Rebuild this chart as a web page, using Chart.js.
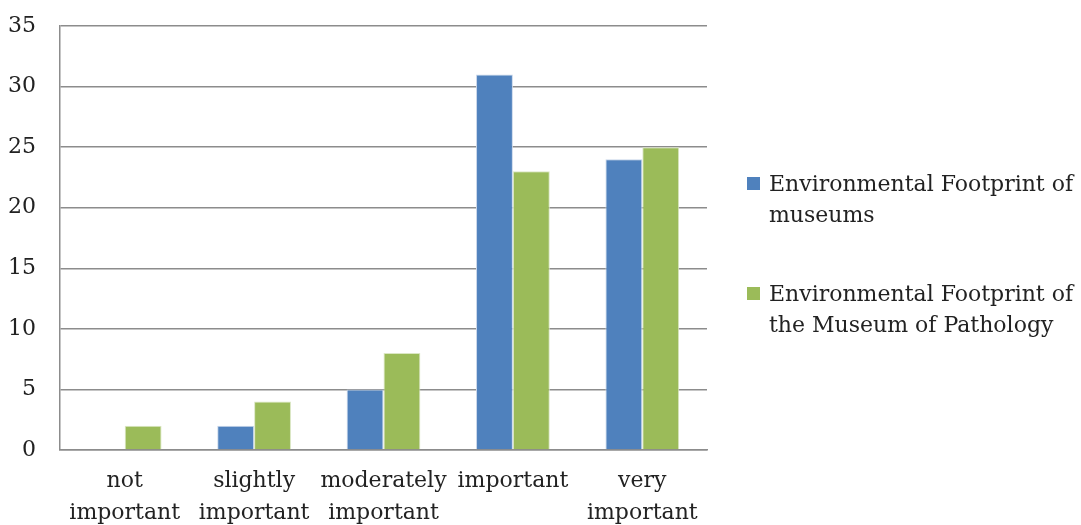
<!DOCTYPE html>
<html>
<head>
<meta charset="utf-8">
<script src="https://cdn.jsdelivr.net/npm/chart.js@4/dist/chart.umd.min.js"></script>
<style>
  html, body { margin: 0; padding: 0; background: #fff; }
  #wrap { position: relative; width: 1081px; height: 525px; }
  #legend { position: absolute; left: 747px; top: 168px; font-family: "DejaVu Serif", serif; font-size: 22px; color: #222; }
  .item { position: relative; padding-left: 22px; line-height: 31px; margin-bottom: 48px; }
  .box { position: absolute; left: 0; top: 9px; width: 13px; height: 13px; }
</style>
</head>
<body>
<div id="wrap">
  <canvas id="chart" width="1081" height="525"></canvas>
  <div id="legend"></div>
</div>
<script>
// categories and series
var categories = [['not', 'important'], ['slightly', 'important'], ['moderately', 'important'], 'important', ['very', 'important']];
var seriesNames = ['Environmental Footprint of museums', 'Environmental Footprint of the Museum of Pathology'];
var legendLines = [['Environmental Footprint of', 'museums'], ['Environmental Footprint of', 'the Museum of Pathology']];
var museums = [0, 2, 5, 31, 24];
var pathology = [2, 4, 8, 23, 25];
var colors = ['#4F81BD', '#9BBB59'];

Chart.defaults.font.family = '"DejaVu Serif", serif';
Chart.defaults.font.size = 22;
Chart.defaults.color = '#222';

var chart = new Chart(document.getElementById('chart').getContext('2d'), {
  type: 'bar',
  data: {
    labels: categories,
    datasets: [{
      label: seriesNames[0],
      data: museums,
      backgroundColor: colors[0],
      borderColor: '#c9d7ea',
      borderWidth: { top: 1, left: 1, right: 1, bottom: 0 },
      categoryPercentage: 0.57,
      barPercentage: 1.0
    }, {
      label: seriesNames[1],
      data: pathology,
      backgroundColor: colors[1],
      borderColor: '#dbe7c4',
      borderWidth: { top: 1, left: 1, right: 1, bottom: 0 },
      categoryPercentage: 0.57,
      barPercentage: 1.0
    }]
  },
  options: {
    responsive: false,
    animation: false,
    layout: { padding: { top: 26, right: 374, left: 0, bottom: 0 } },
    plugins: {
      legend: { display: false },
      tooltip: { enabled: false }
    },
    scales: {
      x: {
        grid: { display: false, drawTicks: false },
        border: { color: '#8c8c8c', width: 1.5 },
        ticks: { padding: 15, maxRotation: 0, autoSkip: false, font: { lineHeight: 1.45 } },
        afterFit: function(scale) { scale.height = 75; scale.paddingTop = 0; scale.paddingBottom = 0; }
      },
      y: {
        min: 0,
        max: 35,
        ticks: { stepSize: 5, padding: 24 },
        grid: { color: '#8c8c8c', lineWidth: 1.5, drawTicks: false },
        border: { color: '#8c8c8c', width: 1.5 },
        afterFit: function(scale) { scale.width = 60; scale.paddingTop = 0; scale.paddingBottom = 0; }
      }
    }
  }
});

// html legend with wrapped text
var legend = document.getElementById('legend');
legendLines.forEach(function(lines, i) {
  var item = document.createElement('div');
  item.className = 'item';
  var box = document.createElement('span');
  box.className = 'box';
  box.style.background = colors[i];
  item.appendChild(box);
  lines.forEach(function(t, j) {
    if (j > 0) item.appendChild(document.createElement('br'));
    item.appendChild(document.createTextNode(t));
  });
  legend.appendChild(item);
});
</script>
</body>
</html>
